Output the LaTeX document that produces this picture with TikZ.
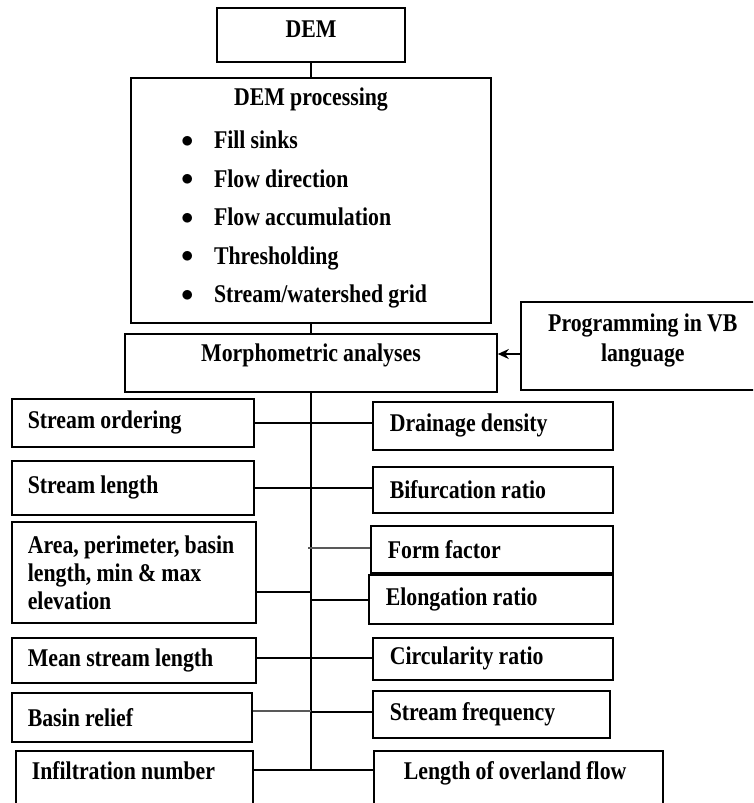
\documentclass[tikz,border=0pt]{standalone}
\usepackage{fontspec}
\setmainfont{Liberation Serif}[FakeStretch=0.855, WordSpace=0.95]
\usetikzlibrary{arrows.meta}
\newcommand\blt{\makebox[33pt][l]{\raisebox{1.5pt}{$\bullet$}}}
\begin{document}
\begin{tikzpicture}[x=1pt,y=-1pt,
  box/.style={draw, line width=1.6pt, rectangle, inner sep=0pt,
    font=\fontsize{25.5}{28}\selectfont\bfseries},
  lb/.style={box, anchor=north west, inner xsep=16pt, align=flush left},
  rb/.style={box, anchor=north west, inner xsep=17pt, align=flush left},
  conn/.style={line width=1.5pt},
  thinconn/.style={line width=1.1pt, draw=black!65},
  trunk/.style={line width=1.3pt}]
\useasboundingbox (0,0) rectangle (753,803);
\clip (0,0) rectangle (753,803);

% top chain
\node[box, anchor=north, minimum width=188pt, text height=30pt, text depth=24pt] (dem) at (311,7) {DEM};
\node[box, anchor=north, minimum width=360pt, text height=28pt, text depth=217pt] (proc) at (311,77)
  {\fontsize{25.5}{38.5}\selectfont\bfseries\begin{tabular}[t]{@{}l@{}}
   \makebox[360pt][c]{DEM processing}\\[4.5pt]
   \hspace*{50pt}\blt Fill sinks\\
   \hspace*{50pt}\blt Flow direction\\
   \hspace*{50pt}\blt Flow accumulation\\
   \hspace*{50pt}\blt Thresholding\\
   \hspace*{50pt}\blt Stream/watershed grid
  \end{tabular}};
\node[box, anchor=north, minimum width=372pt, text height=28pt, text depth=30pt] (morph) at (311,333) {Morphometric analyses};
\node[box, anchor=north west, minimum width=244pt, text height=30pt, text depth=58pt] (prog) at (520,301)
  {\fontsize{25.5}{30}\selectfont\bfseries\begin{tabular}[t]{@{}c@{}}Programming in VB\\language\end{tabular}};

% left boxes
\node[lb, text width=210pt, minimum height=48pt] (so) at (11,398) {Stream ordering};
\node[lb, text width=210pt, minimum height=54pt] (sl) at (11,460) {Stream length};
\node[lb, text width=212pt, minimum height=101pt] (ar) at (11,521) {Area, perimeter, basin\\length, min \& max\\elevation};
\node[lb, text width=212pt, minimum height=45pt] (ms) at (11,637) {Mean stream length};
\node[lb, text width=208pt, minimum height=49pt] (br) at (11,692) {Basin relief};
\node[lb, text width=205pt, text height=29pt, text depth=41pt] (inf) at (15,750) {Infiltration number};

% right boxes
\node[rb, text width=206pt, minimum height=48pt] (dd) at (372,401) {Drainage density};
\node[rb, text width=206pt, minimum height=46pt] (bf) at (372,466) {Bifurcation ratio};
\node[rb, text width=208pt, minimum height=47pt] (ff) at (370,525) {Form factor};
\node[rb, text width=210pt, minimum height=49pt] (el) at (368,574) {Elongation ratio};
\node[rb, text width=206pt, minimum height=42pt] (cr) at (372,637) {Circularity ratio};
\node[rb, text width=203pt, minimum height=47pt] (sf) at (372,690) {Stream frequency};
\node[rb, inner xsep=30pt, text width=229pt, text height=29pt, text depth=41pt] (lo) at (373,750) {Length of overland flow};

% connectors
\draw[conn] (dem.south) -- (proc.north);
\draw[conn] (proc.south) -- (morph.north);
\coordinate (tend) at (311,770);
\draw[trunk] (morph.south) -- (tend);
\coordinate (pa) at (520,354);
\draw[conn, -{Stealth[length=11pt,width=10pt]}] (pa) -- (pa -| morph.east);

\draw[conn] (so.east) -- (so.east -| dd.west);
\draw[conn] (sl.east) -- (sl.east -| bf.west);
\coordinate (jf) at (308,548);
\draw[thinconn] (jf) -- (jf -| ff.west);
\coordinate (ja) at (311,592);
\draw[conn] (ar.east |- ja) -- (ja);
\coordinate (je) at (311,600);
\draw[conn] (je) -- (je -| el.west);
\coordinate (jm) at (311,658);
\draw[conn] (ms.east |- jm) -- (jm -| cr.west);
\coordinate (jb) at (311,711);
\draw[thinconn] (br.east |- jb) -- (jb);
\coordinate (jc) at (311,712);
\draw[conn] (jc) -- (jc -| sf.west);
\draw[conn] (inf.east |- tend) -- (tend -| lo.west);
\end{tikzpicture}
\end{document}
